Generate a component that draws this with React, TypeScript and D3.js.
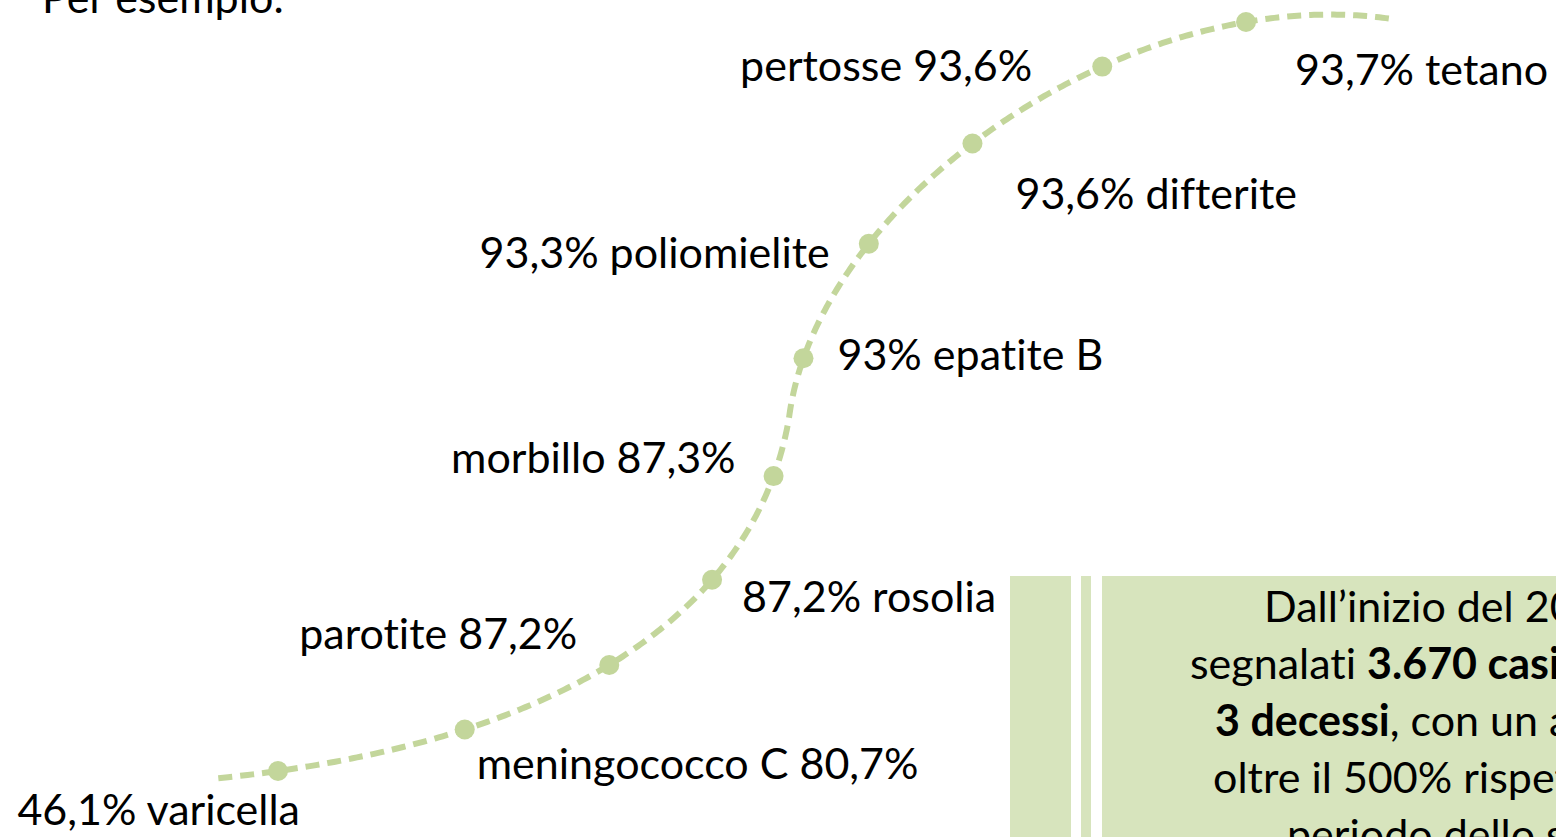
import React, { useEffect } from 'react';
import * as d3 from 'd3';

const width = 1556;
const height = 837;

// vaccination coverage, ordered along the curve
const vaccines = [
    'varicella', 'meningococco C', 'parotite', 'rosolia', 'morbillo',
    'epatite B', 'poliomielite', 'difterite', 'pertosse', 'tetano',
];
const coverage = [46.1, 80.7, 87.2, 87.2, 87.3, 93, 93.3, 93.6, 93.6, 93.7];
const valueFirst = [true, false, false, true, false, true, true, true, false, true];

// label placement relative to each dot
const labelAnchor = ['end', 'start', 'end', 'start', 'end', 'start', 'end', 'start', 'end', 'start'];
const labelDx = [22, 12, -32, 30, -38, 34, -39, 43, -70, 49];
const labelDy = [54, 50, -16, 32, -3, 12, 24, 65, 14, 63];

// shape of the decorative S curve: two joined cubic segments
const lowerCtrl = [[278, 771], [590, 727], [758, 598], [789, 418]];
const upperCtrl = [[789, 418], [812, 238], [1026, 60], [1246, 22]];

const boxLines = [
    [{ t: 'Dall’inizio del 2017 sono stati', b: false }],
    [{ t: 'segnalati ', b: false }, { t: '3.670 casi', b: true }, { t: ' di morbillo e', b: false }],
    [{ t: '3 decessi', b: true }, { t: ', con un aumento di', b: false }],
    [{ t: 'oltre il 500% rispetto allo stesso', b: false }],
    [{ t: 'periodo dello scorso anno', b: false }],
];
const boxLineX = [1264, 1190, 1215, 1213, 1287];

const font = 'Lato, "Open Sans", sans-serif';
const fontSize = 43;
const green = '#c3d69b';
const boxGreen = '#d7e4bd';

function bezier(c, t) {
    const m = 1 - t;
    const b0 = m * m * m;
    const b1 = 3 * m * m * t;
    const b2 = 3 * m * t * t;
    const b3 = t * t * t;
    return [
        b0 * c[0][0] + b1 * c[1][0] + b2 * c[2][0] + b3 * c[3][0],
        b0 * c[0][1] + b1 * c[1][1] + b2 * c[2][1] + b3 * c[3][1],
    ];
}

// s in [0,1] runs the lower piece, s in [1,2] the upper one
function curveAt(s) {
    return s < 1 ? bezier(lowerCtrl, s) : bezier(upperCtrl, s - 1);
}

function fmt(v) {
    return (Number.isInteger(v) ? String(v) : v.toFixed(1).replace('.', ',')) + '%';
}

export default function App() {
    useEffect(() => {
        document.body.style.margin = '0';
        document.body.style.overflow = 'hidden';
    }, []);

    const pos = d3.scalePoint().domain(vaccines).range([0, 2]);
    const samples = d3.range(-0.062, 2.22, 0.005).map(curveAt);
    const line = d3.line().curve(d3.curveLinear);

    const pts = vaccines.map((v) => curveAt(pos(v)));

    return (
        <svg
            width={width}
            height={height}
            style={{ display: 'block', background: '#fff', fontVariantLigatures: 'none', fontFeatureSettings: '"liga" 0' }}
            fontFamily={font}
        >
            <text x={42} y={13} fontSize={fontSize} fill="#000">Per esempio:</text>

            {/* side box */}
            <rect x={1010} y={576} width={61} height={height - 576} fill={boxGreen} />
            <rect x={1081} y={576} width={10} height={height - 576} fill={boxGreen} />
            <rect x={1102} y={576} width={width - 1102} height={height - 576} fill={boxGreen} />
            {boxLines.map((segs, i) => (
                <text key={i} x={boxLineX[i]} y={622 + i * 57} fontSize={fontSize} fill="#000">
                    {segs.map((s, j) => (
                        <tspan key={j} fontWeight={s.b ? 700 : 400}>{s.t}</tspan>
                    ))}
                </text>
            ))}

            <path d={line(samples)} fill="none" stroke={green} strokeWidth={6} strokeDasharray="14 8" />
            {pts.map(([x, y], i) => (
                <circle key={vaccines[i]} cx={x} cy={y} r={10} fill={green} />
            ))}
            {pts.map(([x, y], i) => (
                <text
                    key={'l' + vaccines[i]}
                    x={x + labelDx[i]}
                    y={y + labelDy[i]}
                    textAnchor={labelAnchor[i]}
                    fontSize={fontSize}
                    fill="#000"
                >
                    {valueFirst[i] ? `${fmt(coverage[i])} ${vaccines[i]}` : `${vaccines[i]} ${fmt(coverage[i])}`}
                </text>
            ))}
        </svg>
    );
}
